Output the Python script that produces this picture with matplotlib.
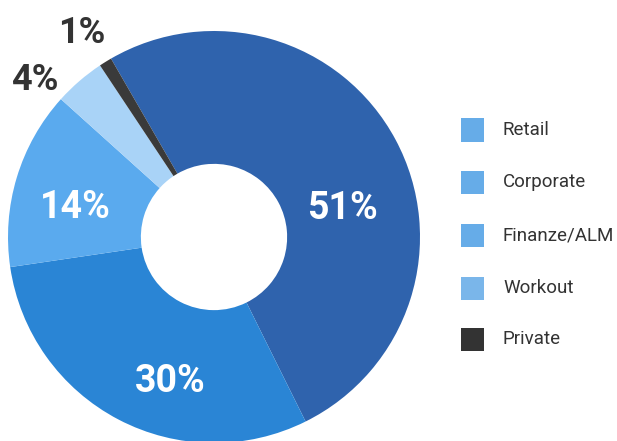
import matplotlib.pyplot as plt
from matplotlib.patches import Rectangle

categories = ['Retail', 'Corporate', 'Finanze/ALM', 'Workout', 'Private']
shares = [51, 30, 14, 4, 1]
slice_colors = ['#2f63ad', '#2a85d5', '#5aaaee', '#a9d3f7', '#3a3a3a']
legend_colors = ['#66ace8', '#66ace8', '#66ace8', '#7ab6ea', '#333333']

# where each percentage label sits (data coords of the donut axes)
label_pos = [(0.625, 0.14), (-0.21, -0.70), (-0.675, 0.145), (-0.87, 0.76), (-0.64, 0.99)]
label_colors = ['white', 'white', 'white', '#333333', '#333333']

plt.rcParams['font.family'] = ['Roboto', 'DejaVu Sans']

W, H = 617, 441
fig = plt.figure(figsize=(W / 100, H / 100), dpi=100)

# donut: center ~ (214, 237) px, outer radius 206 px
cx, cy, r = 214, 237, 206
ax = fig.add_axes([(cx - r) / W, (H - cy - r) / H, 2 * r / W, 2 * r / H])
ax.pie(shares, colors=slice_colors, startangle=120, counterclock=False,
       radius=1, wedgeprops=dict(width=0.645, linewidth=0))
ax.set_xlim(-1, 1)
ax.set_ylim(-1, 1)
ax.set_aspect('equal')
ax.axis('off')

for s, (x, y), c in zip(shares, label_pos, label_colors):
    inside = c == 'white'
    ax.text(x, y, '{}%'.format(s), ha='center', va='center', color=c,
            fontsize=27 if inside else 26, fontweight='bold', clip_on=False)

# legend drawn by hand on the right
rows = [130, 182, 235, 288, 339]
for name, col, py in zip(categories, legend_colors, rows):
    fig.add_artist(Rectangle((461 / W, (H - py - 11.5) / H), 23 / W, 23 / H,
                             transform=fig.transFigure, color=col, lw=0))
    fig.text(503 / W, (H - py) / H, name, ha='left', va='center',
             fontsize=13.5, color='#333333')

plt.savefig('out.png', dpi=100)
